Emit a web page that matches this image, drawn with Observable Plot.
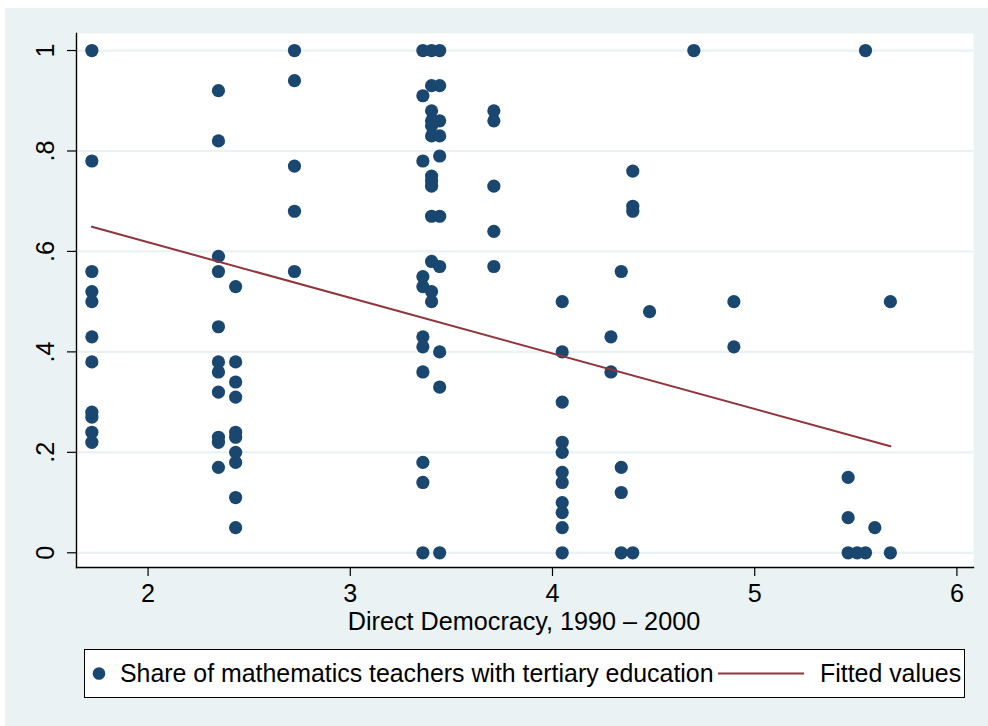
<!DOCTYPE html>
<html><head><meta charset="utf-8">
<script src="https://cdn.jsdelivr.net/npm/d3@7"></script>
<script src="https://cdn.jsdelivr.net/npm/@observablehq/plot@0.6"></script>
<style>
html,body{margin:0;padding:0;background:#fff;}
#graph{position:relative;width:988px;height:726px;overflow:hidden;}
#bg{position:absolute;left:5px;top:8px;width:983px;height:718px;background:#EAF2F3;}
#chart{position:absolute;left:0;top:0;}
#legend{position:absolute;left:84px;top:649px;width:881px;height:49px;background:#fff;border:1px solid #000;box-sizing:border-box;}
#legend svg{display:block;}
</style></head>
<body>
<div id="graph"><div id="bg"></div><div id="chart"></div><div id="legend"></div></div>
<script>
// Direct Democracy index levels (x) and share of maths teachers with tertiary education (y)
const ddLevels = [1.722, 2.348, 2.433, 2.724, 3.359, 3.402, 3.442, 3.710, 4.048, 4.289,
                  4.340, 4.397, 4.480, 4.699, 4.897, 5.462, 5.507, 5.548, 5.594, 5.671];
const shareByLevel = [
  [1, .78, .56, .52, .50, .43, .38, .28, .27, .24, .22],
  [.92, .82, .59, .56, .45, .38, .36, .32, .23, .22, .17],
  [.53, .38, .34, .31, .24, .23, .20, .18, .11, .05],
  [1, .94, .77, .68, .56],
  [1, .91, .78, .55, .53, .43, .41, .36, .18, .14, 0],
  [1, .93, .88, .86, .85, .83, .75, .74, .73, .67, .58, .52, .50],
  [1, .93, .86, .83, .79, .67, .57, .40, .33, 0],
  [.88, .86, .73, .64, .57],
  [.50, .40, .30, .22, .20, .16, .14, .10, .08, .05, 0],
  [.43, .36],
  [.56, .17, .12, 0],
  [.76, .69, .68, 0],
  [.48],
  [1],
  [.50, .41],
  [.15, .07, 0],
  [0],
  [1, 0],
  [.05],
  [.50, 0]
];
// Fitted values line endpoints
const fitX = [1.722, 5.671];
const fitY = [0.649, 0.212];

const xTicks = [2, 3, 4, 5, 6];
const yTicks = [0, 0.2, 0.4, 0.6, 0.8, 1];
const yTickLabels = ["0", ".2", ".4", ".6", ".8", "1"];
const xTitle = "Direct Democracy, 1990 – 2000";
const seriesNames = ["Share of mathematics teachers with tertiary education", "Fitted values"];

const points = ddLevels.flatMap((x, i) => shareByLevel[i].map(y => ({x, y})));
const fit = fitX.map((x, i) => ({x, y: fitY[i]}));

const FONT = "'Liberation Sans', Arial, Helvetica, sans-serif";
const FS = 25.2;
const NAVY = "#1A476F", MAROON = "#90353B", BG = "#EAF2F3";

const chart = Plot.plot({
  width: 988, height: 640,
  marginLeft: 76, marginRight: 15, marginTop: 33, marginBottom: 73,
  style: {background: "transparent", fontFamily: FONT, fontSize: FS + "px", color: "black", overflow: "visible"},
  x: {domain: [1.646, 6.082]},
  y: {domain: [-0.0293, 1.0339]},
  marks: [
    Plot.frame({fill: "white", stroke: "none"}),
    Plot.gridY(yTicks, {stroke: BG, strokeOpacity: 1, strokeWidth: 2.2}),
    Plot.axisY(yTicks, {tickSize: 9, tickFormat: () => "", label: null, stroke: "black", strokeWidth: 1.2}),
    Plot.axisX(xTicks, {tickSize: 9, tickFormat: () => "", label: null, stroke: "black", strokeWidth: 1.2}),
    Plot.frame({anchor: "left", stroke: "black", strokeWidth: 1.4}),
    Plot.frame({anchor: "bottom", stroke: "black", strokeWidth: 1.4}),
    Plot.text(yTicks, {y: d => d, text: (d, i) => yTickLabels[i], frameAnchor: "left", dx: -31,
      rotate: -90, textAnchor: "middle", lineAnchor: "middle", fontSize: FS, fill: "black"}),
    Plot.text(xTicks, {x: d => d, text: d => String(d), frameAnchor: "bottom", dy: 26,
      lineAnchor: "middle", textAnchor: "middle", fontSize: FS, fill: "black"}),
    Plot.text([xTitle], {text: d => d, frameAnchor: "bottom", dy: 54, dx: -1, lineAnchor: "middle",
      textAnchor: "middle", fontSize: FS, fill: "black"}),
    Plot.dot(points, {x: "x", y: "y", r: 6.6, fill: NAVY, stroke: "none"}),
    Plot.line(fit, {x: "x", y: "y", stroke: MAROON, strokeWidth: 2})
  ]
});
document.getElementById("chart").appendChild(chart);

// Legend (below the plot)
const lg = d3.select("#legend").append("svg").attr("width", 879).attr("height", 47)
  .style("font-family", FONT).style("font-size", "24.9px");
lg.append("circle").attr("cx", 14).attr("cy", 23.5).attr("r", 6.3).attr("fill", NAVY);
lg.append("text").attr("x", 35).attr("y", 32).attr("fill", "black").text(seriesNames[0]);
lg.append("line").attr("x1", 633).attr("x2", 719).attr("y1", 23.5).attr("y2", 23.5)
  .attr("stroke", MAROON).attr("stroke-width", 2);
lg.append("text").attr("x", 735).attr("y", 32).attr("fill", "black").text(seriesNames[1]);
</script>
</body></html>
